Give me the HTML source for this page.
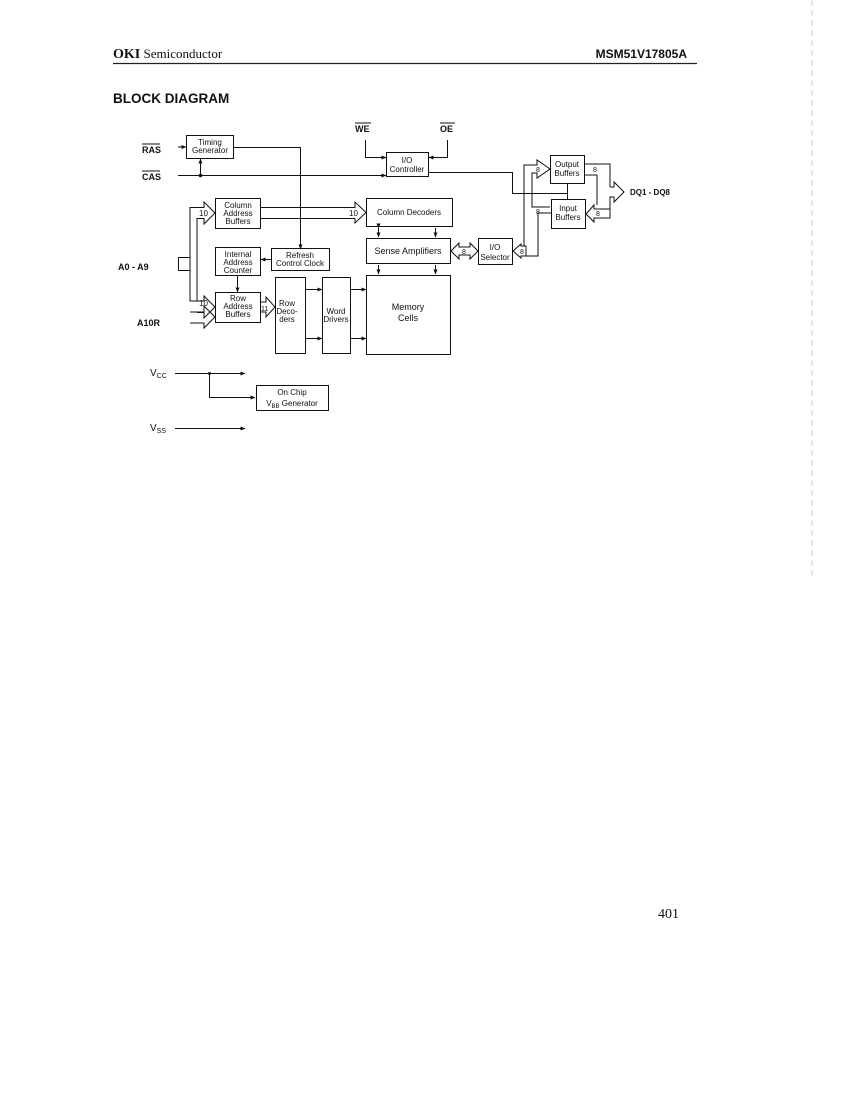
<!DOCTYPE html>
<html><head><meta charset="utf-8"><style>
html,body{margin:0;padding:0;background:#fff;}
svg{display:block;}
text{font-family:"Liberation Sans",sans-serif;fill:#111;}
.b{font-weight:bold;}
</style></head><body>
<svg width="850" height="1100" viewBox="0 0 850 1100" xmlns="http://www.w3.org/2000/svg">
<defs>
<marker id="a" viewBox="0 0 10 10" refX="9" refY="5" markerWidth="5" markerHeight="5" orient="auto"><path d="M0,1 L10,5 L0,9 z" fill="#111"/></marker>
</defs>
<!-- header -->
<text x="113" y="58" style="font-family:'Liberation Serif',serif;font-size:13px"><tspan font-weight="bold" font-size="14">OKI</tspan> Semiconductor</text>
<text x="687" y="58" font-size="12" class="b" text-anchor="end">MSM51V17805A</text>
<line x1="113" y1="63.5" x2="697" y2="63.5" stroke="#222" stroke-width="1.2"/>
<text x="113" y="103" font-size="13.5" class="b">BLOCK DIAGRAM</text>
<line x1="812" y1="0" x2="812" y2="580" stroke="#ccc" stroke-width="1" stroke-dasharray="6 4"/>

<g fill="none" stroke="#111" stroke-width="1">
<rect x="186.5" y="135.5" width="47" height="23"/>
<rect x="386.5" y="152.5" width="42" height="24"/>
<rect x="215.5" y="198.5" width="45" height="30"/>
<rect x="366.5" y="198.5" width="86" height="28"/>
<rect x="366.5" y="238.5" width="84" height="25"/>
<rect x="366.5" y="275.5" width="84" height="79"/>
<rect x="275.5" y="277.5" width="30" height="76"/>
<rect x="322.5" y="277.5" width="28" height="76"/>
<rect x="215.5" y="247.5" width="45" height="28"/>
<rect x="271.5" y="248.5" width="58" height="22"/>
<rect x="215.5" y="292.5" width="45" height="30"/>
<rect x="478.5" y="238.5" width="34" height="26"/>
<rect x="550.5" y="155.5" width="34" height="28"/>
<rect x="551.5" y="199.5" width="34" height="29"/>
<rect x="256.5" y="385.5" width="72" height="25"/>

<line x1="178" y1="147" x2="186" y2="147" marker-end="url(#a)"/>
<line x1="178" y1="175.5" x2="386" y2="175.5" marker-end="url(#a)"/>
<line x1="200.5" y1="175" x2="200.5" y2="159" marker-end="url(#a)"/>
<polyline points="233,147.5 300.5,147.5 300.5,249" marker-end="url(#a)"/>
<polyline points="365.5,140 365.5,157.5 386,157.5" marker-end="url(#a)"/>
<polyline points="447.5,140 447.5,157.5 429,157.5" marker-end="url(#a)"/>
<polyline points="429,172.5 512.5,172.5 512.5,193.5 537,193.5"/>
<polyline points="260,207.5 355,207.5 355,202 366,212.5 355,223 355,218.5 260,218.5"/>
<text x="349" y="216" font-size="8" stroke="none" fill="#111">10</text>
<polyline points="190,264 190,207.5 204,207.5 204,202 215,213 204,224 204,218.5 197,218.5 197,301"/>
<polyline points="190,264 190,301 204,301 204,296 215,307 204,318 204,312.5 197,312.5"/>
<polyline points="190,264 190,257.5 178.5,257.5 178.5,270.5 190,270.5"/>
<text x="199" y="216" font-size="8" stroke="none" fill="#111">10</text>
<text x="199" y="306" font-size="8" stroke="none" fill="#111">10</text>
<polyline points="190,312 204,312 204,306 215,317 204,328 204,323 190,323 z"/>
<line x1="271" y1="259.5" x2="261" y2="259.5" marker-end="url(#a)"/>
<line x1="237.5" y1="275" x2="237.5" y2="292" marker-end="url(#a)"/>
<polyline points="260,302 266,302 266,297 275,307 266,317 266,312 260,312"/>
<text x="261" y="311" font-size="7" stroke="none" fill="#111">11</text>
<line x1="305" y1="289.5" x2="322" y2="289.5" marker-end="url(#a)"/>
<line x1="305" y1="338.5" x2="322" y2="338.5" marker-end="url(#a)"/>
<line x1="350" y1="289.5" x2="366" y2="289.5" marker-end="url(#a)"/>
<line x1="350" y1="338.5" x2="366" y2="338.5" marker-end="url(#a)"/>
<line x1="378.5" y1="228" x2="378.5" y2="237" marker-end="url(#a)" marker-start="url(#a)"/>
<line x1="435.5" y1="228" x2="435.5" y2="237" marker-end="url(#a)"/>
<line x1="378.5" y1="265" x2="378.5" y2="274" marker-end="url(#a)"/>
<line x1="435.5" y1="265" x2="435.5" y2="274" marker-end="url(#a)"/>
<polygon points="451,251 459,243 459,247 470,247 470,243 478,251 470,259 470,255 459,255 459,259"/>
<text x="462" y="254" font-size="7" stroke="none" fill="#111">8</text>
<polygon points="513,251 521,244 521,246 526,246 526,256 521,256 521,258"/>
<polyline points="526,246 524,246 524,165 537,165 537,160 550,169 537,178 537,173 532,173 532,207 550,207"/>
<polyline points="526,256 538,256 538,213 551,213"/>
<text x="520" y="254" font-size="7" stroke="none" fill="#111">8</text>
<text x="536" y="172" font-size="7" stroke="none" fill="#111">8</text>
<text x="536" y="214" font-size="7" stroke="none" fill="#111">8</text>
<line x1="567.5" y1="184" x2="567.5" y2="199"/>
<line x1="537" y1="193.5" x2="567" y2="193.5"/>
<polyline points="585,164 610,164 610,187"/>
<polyline points="585,175 597,175 597,205"/>
<polyline points="586,214 594,205 594,209 610,209 610,218 594,218 594,222 586,214"/>
<polyline points="610,187 614,187 614,182 624,192 614,202 614,197 610,197 610,209"/>
<text x="593" y="172" font-size="7" stroke="none" fill="#111">8</text>
<text x="596" y="216" font-size="7" stroke="none" fill="#111">8</text>
<line x1="175" y1="373.5" x2="245" y2="373.5" marker-end="url(#a)"/>
<polyline points="209.5,373.5 209.5,397.5 255,397.5" marker-end="url(#a)"/>
<line x1="175" y1="428.5" x2="245" y2="428.5" marker-end="url(#a)"/>
</g>
<circle cx="200.5" cy="175.5" r="1.8" fill="#111"/>
<circle cx="209.5" cy="373.5" r="1.5" fill="#111"/>

<g font-size="8" text-anchor="middle">
<text x="210" y="145">Timing</text><text x="210" y="153">Generator</text>
<text x="407" y="163">I/O</text><text x="407" y="172">Controller</text>
<text x="238" y="208">Column</text><text x="238" y="216">Address</text><text x="238" y="224">Buffers</text>
<text x="409" y="215">Column Decoders</text>
<text x="408" y="254" font-size="9">Sense Amplifiers</text>
<text x="408" y="310" font-size="9">Memory</text><text x="408" y="321" font-size="9">Cells</text>
<text x="238" y="257">Internal</text><text x="238" y="265">Address</text><text x="238" y="273">Counter</text>
<text x="300" y="258">Refresh</text><text x="300" y="266">Control Clock</text>
<text x="238" y="301">Row</text><text x="238" y="309">Address</text><text x="238" y="317">Buffers</text>
<text x="287" y="306">Row</text><text x="287" y="314">Deco-</text><text x="287" y="322">ders</text>
<text x="336" y="314">Word</text><text x="336" y="322">Drivers</text>
<text x="495" y="250">I/O</text><text x="495" y="260">Selector</text>
<text x="567" y="167">Output</text><text x="567" y="176">Buffers</text>
<text x="568" y="211">Input</text><text x="568" y="220">Buffers</text>
<text x="292" y="395">On Chip</text><text x="292" y="406">V<tspan font-size="6" dy="2">BB</tspan><tspan dy="-2"> Generator</tspan></text>
</g>
<g font-size="9" class="b">
<text x="142" y="153">RAS</text><line x1="142" y1="144" x2="160" y2="144" stroke="#111"/>
<text x="142" y="180">CAS</text><line x1="142" y1="171" x2="160" y2="171" stroke="#111"/>
<text x="355" y="132">WE</text><line x1="355" y1="123" x2="371" y2="123" stroke="#111"/>
<text x="440" y="132">OE</text><line x1="440" y1="123" x2="455" y2="123" stroke="#111"/>
<text x="118" y="270">A0 - A9</text>
<text x="137" y="326">A10R</text>
<text x="630" y="195" font-size="8">DQ1 - DQ8</text>
</g>
<text x="150" y="376" font-size="10">V<tspan font-size="7" dy="2">CC</tspan></text>
<text x="150" y="431" font-size="10">V<tspan font-size="7" dy="2">SS</tspan></text>
<text x="658" y="918" style="font-family:'Liberation Serif',serif;font-size:14px">401</text>
</svg>
</body></html>
